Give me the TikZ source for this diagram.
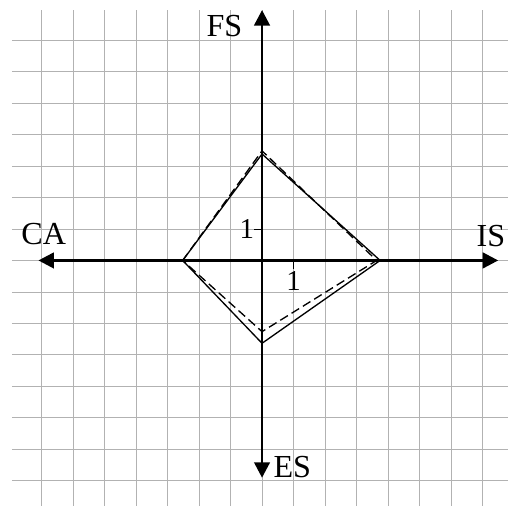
\documentclass[tikz,border=0pt]{standalone}
\usepackage{fontspec}
\setmainfont{Liberation Serif}
\usetikzlibrary{arrows.meta,positioning,calc}

\begin{document}
\begin{tikzpicture}[
    gridline/.style={draw=gray!60, line width=0.8pt},
    axis/.style={{Triangle[length=14pt,width=14pt]}-{Triangle[length=14pt,width=14pt]}, line width=2.6pt},
    lbl/.style={font=\fontsize{29}{34}\selectfont, inner sep=0pt},
    ticklbl/.style={font=\fontsize{26}{30}\selectfont, inner sep=0pt},
    solidline/.style={line width=1.2pt, line join=miter},
    dashline/.style={line width=1.2pt, dash pattern=on 8pt off 4pt}
]
    \useasboundingbox (-8.32,-7.79) rectangle (7.81,8.27);
    \begin{scope}
        \clip (-7.94,-7.79) rectangle (7.81,7.95);
        \draw [gridline] (-7.94,-7.79) grid (7.81,7.95);
    \end{scope}

    % axes
    \coordinate (O) at (0,0);
    \coordinate (caend) at (-7.1,0);
    \coordinate (isend) at (7.5,0);
    \coordinate (esend) at (0,-6.9);
    \coordinate (fsend) at (0,7.95);
    \draw [axis] (caend) -- (isend);
    \draw [axis] (esend) -- (fsend);

    \node [lbl] (ca) at (-6.93,0.84) {CA};
    \node [lbl] (is) at (7.27,0.76) {IS};
    \node [lbl, anchor=east] (fs) at (-0.62,7.45) {FS};
    \node [lbl, anchor=west] (es) at (0.36,-6.57) {ES};

    % ticks
    \coordinate (xt) at (1,0);
    \coordinate (yt) at (0,1);
    \draw [line width=0.8pt] (xt) -- ++(0,-0.27) coordinate (xtb);
    \draw [line width=0.8pt] (yt) -- ++(-0.25,0) coordinate (ytb);
    \node [ticklbl, anchor=north] (xone) at ($(xtb)+(0,-0.08)$) {1};
    \node [ticklbl, anchor=east] (yone) at (ytb) {1};

    % diamonds
    \coordinate (sa) at (-2.52,0);
    \coordinate (sb) at (0,3.38);
    \coordinate (sc) at (3.75,0);
    \coordinate (sd) at (0,-2.63);
    \draw [solidline] (sa) -- (sb) -- (sc) -- (sd) -- cycle;

    \coordinate (da) at (-2.52,0);
    \coordinate (db) at (0,3.48);
    \coordinate (dc) at (3.64,0);
    \coordinate (dd) at (0,-2.26);
    \draw [dashline] (da) -- (db) -- (dc) -- (dd) -- cycle;
\end{tikzpicture}
\end{document}
